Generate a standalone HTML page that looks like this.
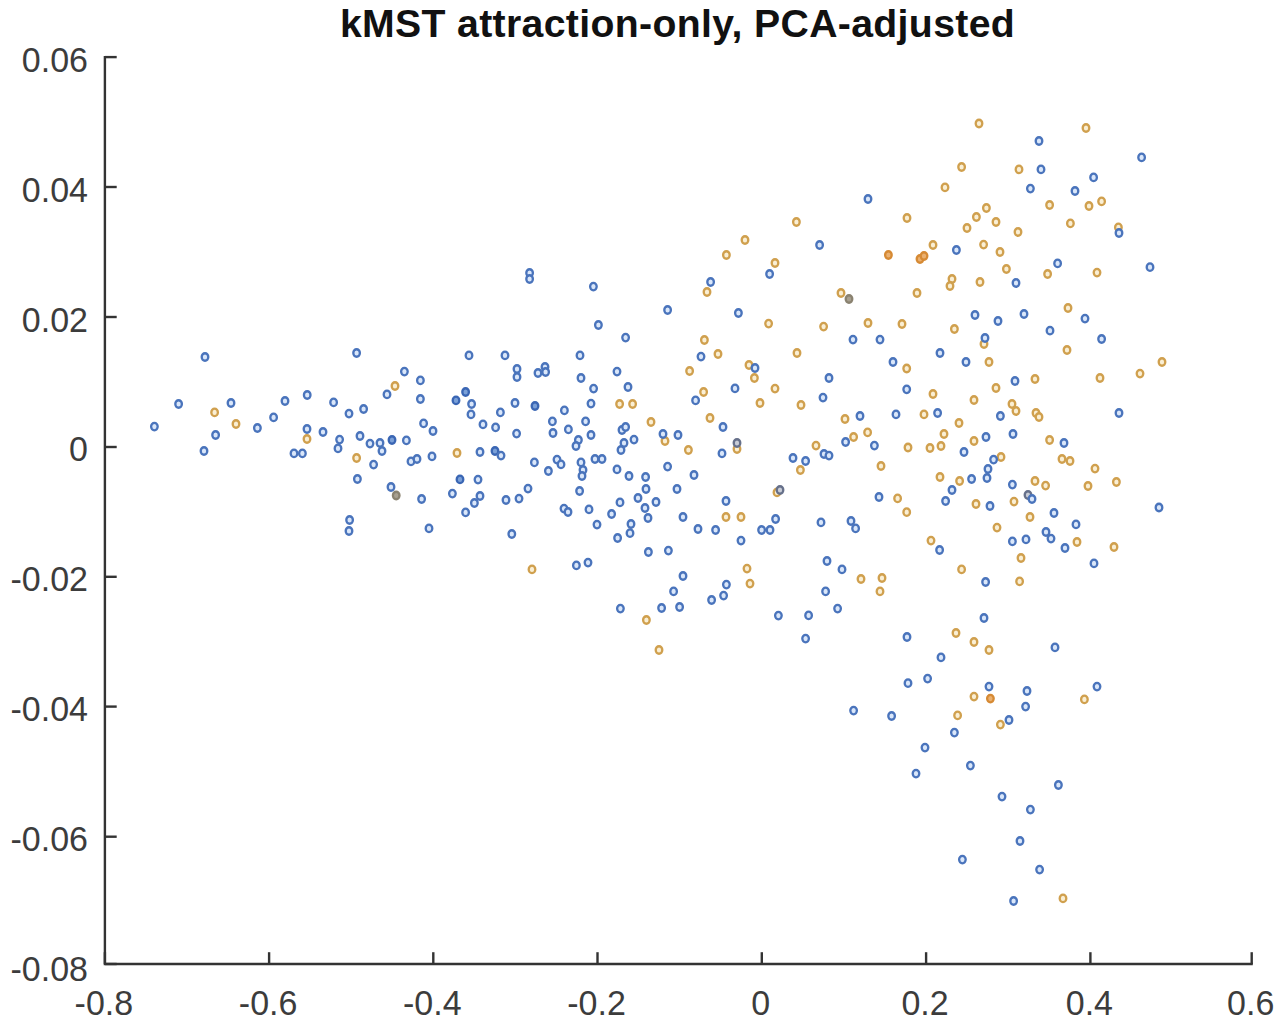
<!DOCTYPE html>
<html><head><meta charset="utf-8"><style>
html,body{margin:0;padding:0;background:#fff;width:1280px;height:1026px;overflow:hidden;font-family:"Liberation Sans",sans-serif;}
svg{display:block;}
</style></head><body>
<svg width="1280" height="1026" viewBox="0 0 1280 1026"><g stroke-width="2.3"><ellipse cx="214.6" cy="412.4" rx="3.3" ry="3.75" stroke="#d0a04e" fill="#faefd4"/><ellipse cx="395.0" cy="386.0" rx="3.3" ry="3.75" stroke="#d0a04e" fill="#faefd4"/><ellipse cx="236.0" cy="424.0" rx="3.3" ry="3.75" stroke="#d0a04e" fill="#faefd4"/><ellipse cx="307.0" cy="439.0" rx="3.3" ry="3.75" stroke="#d0a04e" fill="#faefd4"/><ellipse cx="356.6" cy="458.0" rx="3.3" ry="3.75" stroke="#d0a04e" fill="#faefd4"/><ellipse cx="619.6" cy="404.0" rx="3.3" ry="3.75" stroke="#d0a04e" fill="#faefd4"/><ellipse cx="632.6" cy="404.0" rx="3.3" ry="3.75" stroke="#d0a04e" fill="#faefd4"/><ellipse cx="651.0" cy="422.0" rx="3.3" ry="3.75" stroke="#d0a04e" fill="#faefd4"/><ellipse cx="457.0" cy="453.0" rx="3.3" ry="3.75" stroke="#d0a04e" fill="#faefd4"/><ellipse cx="704.4" cy="340.0" rx="3.3" ry="3.75" stroke="#d0a04e" fill="#faefd4"/><ellipse cx="718.0" cy="354.0" rx="3.3" ry="3.75" stroke="#d0a04e" fill="#faefd4"/><ellipse cx="797.0" cy="353.0" rx="3.3" ry="3.75" stroke="#d0a04e" fill="#faefd4"/><ellipse cx="689.6" cy="371.0" rx="3.3" ry="3.75" stroke="#d0a04e" fill="#faefd4"/><ellipse cx="749.0" cy="365.0" rx="3.3" ry="3.75" stroke="#d0a04e" fill="#faefd4"/><ellipse cx="754.4" cy="378.0" rx="3.3" ry="3.75" stroke="#d0a04e" fill="#faefd4"/><ellipse cx="906.7" cy="368.5" rx="3.3" ry="3.75" stroke="#d0a04e" fill="#faefd4"/><ellipse cx="775.0" cy="388.6" rx="3.3" ry="3.75" stroke="#d0a04e" fill="#faefd4"/><ellipse cx="703.6" cy="392.0" rx="3.3" ry="3.75" stroke="#d0a04e" fill="#faefd4"/><ellipse cx="760.0" cy="403.0" rx="3.3" ry="3.75" stroke="#d0a04e" fill="#faefd4"/><ellipse cx="801.0" cy="405.0" rx="3.3" ry="3.75" stroke="#d0a04e" fill="#faefd4"/><ellipse cx="710.0" cy="418.0" rx="3.3" ry="3.75" stroke="#d0a04e" fill="#faefd4"/><ellipse cx="665.0" cy="441.0" rx="3.3" ry="3.75" stroke="#d0a04e" fill="#faefd4"/><ellipse cx="688.4" cy="450.0" rx="3.3" ry="3.75" stroke="#d0a04e" fill="#faefd4"/><ellipse cx="737.0" cy="449.0" rx="3.3" ry="3.75" stroke="#d0a04e" fill="#faefd4"/><ellipse cx="845.0" cy="419.0" rx="3.3" ry="3.75" stroke="#d0a04e" fill="#faefd4"/><ellipse cx="853.6" cy="437.0" rx="3.3" ry="3.75" stroke="#d0a04e" fill="#faefd4"/><ellipse cx="867.6" cy="432.4" rx="3.3" ry="3.75" stroke="#d0a04e" fill="#faefd4"/><ellipse cx="908.0" cy="447.5" rx="3.3" ry="3.75" stroke="#d0a04e" fill="#faefd4"/><ellipse cx="816.0" cy="445.6" rx="3.3" ry="3.75" stroke="#d0a04e" fill="#faefd4"/><ellipse cx="800.4" cy="470.0" rx="3.3" ry="3.75" stroke="#d0a04e" fill="#faefd4"/><ellipse cx="881.0" cy="466.0" rx="3.3" ry="3.75" stroke="#d0a04e" fill="#faefd4"/><ellipse cx="777.0" cy="492.4" rx="3.3" ry="3.75" stroke="#d0a04e" fill="#faefd4"/><ellipse cx="897.6" cy="498.4" rx="3.3" ry="3.75" stroke="#d0a04e" fill="#faefd4"/><ellipse cx="906.7" cy="512.2" rx="3.3" ry="3.75" stroke="#d0a04e" fill="#faefd4"/><ellipse cx="726.0" cy="517.0" rx="3.3" ry="3.75" stroke="#d0a04e" fill="#faefd4"/><ellipse cx="741.0" cy="517.0" rx="3.3" ry="3.75" stroke="#d0a04e" fill="#faefd4"/><ellipse cx="954.4" cy="329.0" rx="3.3" ry="3.75" stroke="#d0a04e" fill="#faefd4"/><ellipse cx="984.0" cy="344.0" rx="3.3" ry="3.75" stroke="#d0a04e" fill="#faefd4"/><ellipse cx="989.0" cy="362.0" rx="3.3" ry="3.75" stroke="#d0a04e" fill="#faefd4"/><ellipse cx="1067.0" cy="350.0" rx="3.3" ry="3.75" stroke="#d0a04e" fill="#faefd4"/><ellipse cx="1162.0" cy="362.0" rx="3.3" ry="3.75" stroke="#d0a04e" fill="#faefd4"/><ellipse cx="1140.0" cy="373.6" rx="3.3" ry="3.75" stroke="#d0a04e" fill="#faefd4"/><ellipse cx="1100.0" cy="378.0" rx="3.3" ry="3.75" stroke="#d0a04e" fill="#faefd4"/><ellipse cx="1035.0" cy="379.0" rx="3.3" ry="3.75" stroke="#d0a04e" fill="#faefd4"/><ellipse cx="996.0" cy="388.0" rx="3.3" ry="3.75" stroke="#d0a04e" fill="#faefd4"/><ellipse cx="933.0" cy="394.0" rx="3.3" ry="3.75" stroke="#d0a04e" fill="#faefd4"/><ellipse cx="974.0" cy="400.0" rx="3.3" ry="3.75" stroke="#d0a04e" fill="#faefd4"/><ellipse cx="1012.0" cy="404.0" rx="3.3" ry="3.75" stroke="#d0a04e" fill="#faefd4"/><ellipse cx="1016.0" cy="411.0" rx="3.3" ry="3.75" stroke="#d0a04e" fill="#faefd4"/><ellipse cx="1036.0" cy="413.0" rx="3.3" ry="3.75" stroke="#d0a04e" fill="#faefd4"/><ellipse cx="1039.0" cy="417.0" rx="3.3" ry="3.75" stroke="#d0a04e" fill="#faefd4"/><ellipse cx="924.0" cy="414.4" rx="3.3" ry="3.75" stroke="#d0a04e" fill="#faefd4"/><ellipse cx="959.0" cy="423.0" rx="3.3" ry="3.75" stroke="#d0a04e" fill="#faefd4"/><ellipse cx="944.0" cy="434.0" rx="3.3" ry="3.75" stroke="#d0a04e" fill="#faefd4"/><ellipse cx="941.0" cy="446.0" rx="3.3" ry="3.75" stroke="#d0a04e" fill="#faefd4"/><ellipse cx="930.0" cy="448.0" rx="3.3" ry="3.75" stroke="#d0a04e" fill="#faefd4"/><ellipse cx="974.0" cy="441.0" rx="3.3" ry="3.75" stroke="#d0a04e" fill="#faefd4"/><ellipse cx="1049.6" cy="440.0" rx="3.3" ry="3.75" stroke="#d0a04e" fill="#faefd4"/><ellipse cx="1001.0" cy="457.0" rx="3.3" ry="3.75" stroke="#d0a04e" fill="#faefd4"/><ellipse cx="1062.0" cy="459.0" rx="3.3" ry="3.75" stroke="#d0a04e" fill="#faefd4"/><ellipse cx="1070.0" cy="461.0" rx="3.3" ry="3.75" stroke="#d0a04e" fill="#faefd4"/><ellipse cx="1095.0" cy="468.6" rx="3.3" ry="3.75" stroke="#d0a04e" fill="#faefd4"/><ellipse cx="959.6" cy="481.0" rx="3.3" ry="3.75" stroke="#d0a04e" fill="#faefd4"/><ellipse cx="940.0" cy="477.0" rx="3.3" ry="3.75" stroke="#d0a04e" fill="#faefd4"/><ellipse cx="1035.0" cy="481.0" rx="3.3" ry="3.75" stroke="#d0a04e" fill="#faefd4"/><ellipse cx="1045.6" cy="485.6" rx="3.3" ry="3.75" stroke="#d0a04e" fill="#faefd4"/><ellipse cx="1088.0" cy="486.0" rx="3.3" ry="3.75" stroke="#d0a04e" fill="#faefd4"/><ellipse cx="1116.4" cy="482.0" rx="3.3" ry="3.75" stroke="#d0a04e" fill="#faefd4"/><ellipse cx="1014.0" cy="501.6" rx="3.3" ry="3.75" stroke="#d0a04e" fill="#faefd4"/><ellipse cx="976.0" cy="504.0" rx="3.3" ry="3.75" stroke="#d0a04e" fill="#faefd4"/><ellipse cx="1030.0" cy="517.0" rx="3.3" ry="3.75" stroke="#d0a04e" fill="#faefd4"/><ellipse cx="997.0" cy="527.6" rx="3.3" ry="3.75" stroke="#d0a04e" fill="#faefd4"/><ellipse cx="796.4" cy="222.0" rx="3.3" ry="3.75" stroke="#d0a04e" fill="#faefd4"/><ellipse cx="907.0" cy="218.0" rx="3.3" ry="3.75" stroke="#d0a04e" fill="#faefd4"/><ellipse cx="745.0" cy="240.0" rx="3.3" ry="3.75" stroke="#d0a04e" fill="#faefd4"/><ellipse cx="888.4" cy="255.0" rx="3.3" ry="3.75" stroke="#d68a34" fill="#eab070"/><ellipse cx="726.4" cy="255.0" rx="3.3" ry="3.75" stroke="#d0a04e" fill="#faefd4"/><ellipse cx="775.0" cy="263.0" rx="3.3" ry="3.75" stroke="#d0a04e" fill="#faefd4"/><ellipse cx="707.0" cy="292.0" rx="3.3" ry="3.75" stroke="#d0a04e" fill="#faefd4"/><ellipse cx="841.0" cy="293.0" rx="3.3" ry="3.75" stroke="#d0a04e" fill="#faefd4"/><ellipse cx="768.6" cy="323.6" rx="3.3" ry="3.75" stroke="#d0a04e" fill="#faefd4"/><ellipse cx="823.6" cy="326.6" rx="3.3" ry="3.75" stroke="#d0a04e" fill="#faefd4"/><ellipse cx="868.0" cy="323.0" rx="3.3" ry="3.75" stroke="#d0a04e" fill="#faefd4"/><ellipse cx="902.0" cy="324.0" rx="3.3" ry="3.75" stroke="#d0a04e" fill="#faefd4"/><ellipse cx="979.0" cy="123.5" rx="3.3" ry="3.75" stroke="#d0a04e" fill="#faefd4"/><ellipse cx="1086.0" cy="128.0" rx="3.3" ry="3.75" stroke="#d0a04e" fill="#faefd4"/><ellipse cx="961.6" cy="167.0" rx="3.3" ry="3.75" stroke="#d0a04e" fill="#faefd4"/><ellipse cx="1019.0" cy="169.4" rx="3.3" ry="3.75" stroke="#d0a04e" fill="#faefd4"/><ellipse cx="945.0" cy="187.4" rx="3.3" ry="3.75" stroke="#d0a04e" fill="#faefd4"/><ellipse cx="1049.6" cy="205.0" rx="3.3" ry="3.75" stroke="#d0a04e" fill="#faefd4"/><ellipse cx="1089.0" cy="206.0" rx="3.3" ry="3.75" stroke="#d0a04e" fill="#faefd4"/><ellipse cx="1101.6" cy="201.4" rx="3.3" ry="3.75" stroke="#d0a04e" fill="#faefd4"/><ellipse cx="986.4" cy="208.0" rx="3.3" ry="3.75" stroke="#d0a04e" fill="#faefd4"/><ellipse cx="976.4" cy="217.0" rx="3.3" ry="3.75" stroke="#d0a04e" fill="#faefd4"/><ellipse cx="996.0" cy="222.0" rx="3.3" ry="3.75" stroke="#d0a04e" fill="#faefd4"/><ellipse cx="967.0" cy="228.0" rx="3.3" ry="3.75" stroke="#d0a04e" fill="#faefd4"/><ellipse cx="1070.4" cy="223.4" rx="3.3" ry="3.75" stroke="#d0a04e" fill="#faefd4"/><ellipse cx="1018.0" cy="232.0" rx="3.3" ry="3.75" stroke="#d0a04e" fill="#faefd4"/><ellipse cx="1118.4" cy="227.4" rx="3.3" ry="3.75" stroke="#d0a04e" fill="#faefd4"/><ellipse cx="933.0" cy="245.0" rx="3.3" ry="3.75" stroke="#d0a04e" fill="#faefd4"/><ellipse cx="983.6" cy="244.6" rx="3.3" ry="3.75" stroke="#d0a04e" fill="#faefd4"/><ellipse cx="1000.0" cy="252.0" rx="3.3" ry="3.75" stroke="#d0a04e" fill="#faefd4"/><ellipse cx="920.0" cy="259.0" rx="3.3" ry="3.75" stroke="#d68a34" fill="#eab070"/><ellipse cx="924.0" cy="256.0" rx="3.3" ry="3.75" stroke="#d68a34" fill="#eab070"/><ellipse cx="1006.4" cy="269.0" rx="3.3" ry="3.75" stroke="#d0a04e" fill="#faefd4"/><ellipse cx="1047.6" cy="274.0" rx="3.3" ry="3.75" stroke="#d0a04e" fill="#faefd4"/><ellipse cx="1097.0" cy="272.6" rx="3.3" ry="3.75" stroke="#d0a04e" fill="#faefd4"/><ellipse cx="952.0" cy="279.0" rx="3.3" ry="3.75" stroke="#d0a04e" fill="#faefd4"/><ellipse cx="950.0" cy="286.0" rx="3.3" ry="3.75" stroke="#d0a04e" fill="#faefd4"/><ellipse cx="980.0" cy="282.0" rx="3.3" ry="3.75" stroke="#d0a04e" fill="#faefd4"/><ellipse cx="917.0" cy="293.0" rx="3.3" ry="3.75" stroke="#d0a04e" fill="#faefd4"/><ellipse cx="1068.0" cy="308.0" rx="3.3" ry="3.75" stroke="#d0a04e" fill="#faefd4"/><ellipse cx="532.0" cy="569.4" rx="3.3" ry="3.75" stroke="#d0a04e" fill="#faefd4"/><ellipse cx="646.4" cy="620.0" rx="3.3" ry="3.75" stroke="#d0a04e" fill="#faefd4"/><ellipse cx="747.0" cy="568.6" rx="3.3" ry="3.75" stroke="#d0a04e" fill="#faefd4"/><ellipse cx="750.0" cy="583.6" rx="3.3" ry="3.75" stroke="#d0a04e" fill="#faefd4"/><ellipse cx="861.0" cy="579.0" rx="3.3" ry="3.75" stroke="#d0a04e" fill="#faefd4"/><ellipse cx="882.0" cy="578.0" rx="3.3" ry="3.75" stroke="#d0a04e" fill="#faefd4"/><ellipse cx="880.0" cy="591.4" rx="3.3" ry="3.75" stroke="#d0a04e" fill="#faefd4"/><ellipse cx="659.0" cy="650.0" rx="3.3" ry="3.75" stroke="#d0a04e" fill="#faefd4"/><ellipse cx="931.0" cy="540.6" rx="3.3" ry="3.75" stroke="#d0a04e" fill="#faefd4"/><ellipse cx="1077.0" cy="542.0" rx="3.3" ry="3.75" stroke="#d0a04e" fill="#faefd4"/><ellipse cx="1114.0" cy="547.0" rx="3.3" ry="3.75" stroke="#d0a04e" fill="#faefd4"/><ellipse cx="961.6" cy="569.4" rx="3.3" ry="3.75" stroke="#d0a04e" fill="#faefd4"/><ellipse cx="1021.0" cy="558.0" rx="3.3" ry="3.75" stroke="#d0a04e" fill="#faefd4"/><ellipse cx="1019.6" cy="581.4" rx="3.3" ry="3.75" stroke="#d0a04e" fill="#faefd4"/><ellipse cx="956.0" cy="633.0" rx="3.3" ry="3.75" stroke="#d0a04e" fill="#faefd4"/><ellipse cx="974.0" cy="642.0" rx="3.3" ry="3.75" stroke="#d0a04e" fill="#faefd4"/><ellipse cx="989.0" cy="650.0" rx="3.3" ry="3.75" stroke="#d0a04e" fill="#faefd4"/><ellipse cx="974.0" cy="696.6" rx="3.3" ry="3.75" stroke="#d0a04e" fill="#faefd4"/><ellipse cx="990.4" cy="698.6" rx="3.3" ry="3.75" stroke="#d68a34" fill="#eab070"/><ellipse cx="1084.4" cy="699.4" rx="3.3" ry="3.75" stroke="#d0a04e" fill="#faefd4"/><ellipse cx="957.6" cy="715.4" rx="3.3" ry="3.75" stroke="#d0a04e" fill="#faefd4"/><ellipse cx="1000.4" cy="724.6" rx="3.3" ry="3.75" stroke="#d0a04e" fill="#faefd4"/><ellipse cx="1063.0" cy="898.4" rx="3.3" ry="3.75" stroke="#d0a04e" fill="#faefd4"/><ellipse cx="396.2" cy="495.5" rx="3.3" ry="3.75" stroke="#8a8270" fill="#a8a090"/><ellipse cx="849.0" cy="299.0" rx="3.3" ry="3.75" stroke="#8a8270" fill="#a8a090"/><ellipse cx="737.0" cy="443.0" rx="3.3" ry="3.75" stroke="#66708a" fill="#c8ccd6"/><ellipse cx="780.0" cy="490.0" rx="3.3" ry="3.75" stroke="#66708a" fill="#c8ccd6"/><ellipse cx="1028.0" cy="495.0" rx="3.3" ry="3.75" stroke="#66708a" fill="#c8ccd6"/><ellipse cx="205.0" cy="357.0" rx="3.3" ry="3.75" stroke="#4a74bc" fill="#dae7fa"/><ellipse cx="356.6" cy="353.0" rx="3.3" ry="3.75" stroke="#4a74bc" fill="#dae7fa"/><ellipse cx="178.6" cy="404.0" rx="3.3" ry="3.75" stroke="#4a74bc" fill="#dae7fa"/><ellipse cx="231.0" cy="403.0" rx="3.3" ry="3.75" stroke="#4a74bc" fill="#dae7fa"/><ellipse cx="285.0" cy="401.0" rx="3.3" ry="3.75" stroke="#4a74bc" fill="#dae7fa"/><ellipse cx="307.2" cy="395.0" rx="3.3" ry="3.75" stroke="#4a74bc" fill="#dae7fa"/><ellipse cx="333.6" cy="402.4" rx="3.3" ry="3.75" stroke="#4a74bc" fill="#dae7fa"/><ellipse cx="349.0" cy="413.6" rx="3.3" ry="3.75" stroke="#4a74bc" fill="#dae7fa"/><ellipse cx="363.6" cy="409.0" rx="3.3" ry="3.75" stroke="#4a74bc" fill="#dae7fa"/><ellipse cx="387.0" cy="394.4" rx="3.3" ry="3.75" stroke="#4a74bc" fill="#dae7fa"/><ellipse cx="154.4" cy="426.6" rx="3.3" ry="3.75" stroke="#4a74bc" fill="#dae7fa"/><ellipse cx="257.4" cy="428.0" rx="3.3" ry="3.75" stroke="#4a74bc" fill="#dae7fa"/><ellipse cx="273.6" cy="417.4" rx="3.3" ry="3.75" stroke="#4a74bc" fill="#dae7fa"/><ellipse cx="215.6" cy="435.0" rx="3.3" ry="3.75" stroke="#4a74bc" fill="#dae7fa"/><ellipse cx="307.0" cy="429.0" rx="3.3" ry="3.75" stroke="#4a74bc" fill="#dae7fa"/><ellipse cx="323.0" cy="432.0" rx="3.3" ry="3.75" stroke="#4a74bc" fill="#dae7fa"/><ellipse cx="204.0" cy="451.0" rx="3.3" ry="3.75" stroke="#4a74bc" fill="#dae7fa"/><ellipse cx="294.0" cy="453.4" rx="3.3" ry="3.75" stroke="#4a74bc" fill="#dae7fa"/><ellipse cx="302.4" cy="453.4" rx="3.3" ry="3.75" stroke="#4a74bc" fill="#dae7fa"/><ellipse cx="339.6" cy="439.6" rx="3.3" ry="3.75" stroke="#4a74bc" fill="#dae7fa"/><ellipse cx="338.0" cy="448.4" rx="3.3" ry="3.75" stroke="#4a74bc" fill="#dae7fa"/><ellipse cx="360.0" cy="436.0" rx="3.3" ry="3.75" stroke="#4a74bc" fill="#dae7fa"/><ellipse cx="370.0" cy="443.6" rx="3.3" ry="3.75" stroke="#4a74bc" fill="#dae7fa"/><ellipse cx="380.0" cy="443.0" rx="3.3" ry="3.75" stroke="#4a74bc" fill="#dae7fa"/><ellipse cx="382.0" cy="451.0" rx="3.3" ry="3.75" stroke="#4a74bc" fill="#dae7fa"/><ellipse cx="392.0" cy="440.0" rx="3.3" ry="3.75" stroke="#3a66b4" fill="#7aa0d8"/><ellipse cx="373.6" cy="464.6" rx="3.3" ry="3.75" stroke="#4a74bc" fill="#dae7fa"/><ellipse cx="357.4" cy="479.0" rx="3.3" ry="3.75" stroke="#4a74bc" fill="#dae7fa"/><ellipse cx="391.0" cy="487.0" rx="3.3" ry="3.75" stroke="#4a74bc" fill="#dae7fa"/><ellipse cx="349.6" cy="520.0" rx="3.3" ry="3.75" stroke="#4a74bc" fill="#dae7fa"/><ellipse cx="349.0" cy="531.0" rx="3.3" ry="3.75" stroke="#4a74bc" fill="#dae7fa"/><ellipse cx="625.6" cy="337.6" rx="3.3" ry="3.75" stroke="#4a74bc" fill="#dae7fa"/><ellipse cx="469.0" cy="355.4" rx="3.3" ry="3.75" stroke="#4a74bc" fill="#dae7fa"/><ellipse cx="505.0" cy="355.4" rx="3.3" ry="3.75" stroke="#4a74bc" fill="#dae7fa"/><ellipse cx="580.0" cy="355.4" rx="3.3" ry="3.75" stroke="#4a74bc" fill="#dae7fa"/><ellipse cx="404.4" cy="371.6" rx="3.3" ry="3.75" stroke="#4a74bc" fill="#dae7fa"/><ellipse cx="420.4" cy="380.4" rx="3.3" ry="3.75" stroke="#4a74bc" fill="#dae7fa"/><ellipse cx="517.0" cy="369.0" rx="3.3" ry="3.75" stroke="#4a74bc" fill="#dae7fa"/><ellipse cx="517.0" cy="377.0" rx="3.3" ry="3.75" stroke="#4a74bc" fill="#dae7fa"/><ellipse cx="538.0" cy="373.0" rx="3.3" ry="3.75" stroke="#4a74bc" fill="#dae7fa"/><ellipse cx="545.0" cy="367.0" rx="3.3" ry="3.75" stroke="#4a74bc" fill="#dae7fa"/><ellipse cx="545.6" cy="372.0" rx="3.3" ry="3.75" stroke="#4a74bc" fill="#dae7fa"/><ellipse cx="617.0" cy="371.6" rx="3.3" ry="3.75" stroke="#4a74bc" fill="#dae7fa"/><ellipse cx="581.0" cy="378.0" rx="3.3" ry="3.75" stroke="#4a74bc" fill="#dae7fa"/><ellipse cx="593.6" cy="388.6" rx="3.3" ry="3.75" stroke="#4a74bc" fill="#dae7fa"/><ellipse cx="628.0" cy="387.0" rx="3.3" ry="3.75" stroke="#4a74bc" fill="#dae7fa"/><ellipse cx="420.4" cy="399.0" rx="3.3" ry="3.75" stroke="#4a74bc" fill="#dae7fa"/><ellipse cx="465.6" cy="392.0" rx="3.3" ry="3.75" stroke="#3a66b4" fill="#7aa0d8"/><ellipse cx="456.0" cy="400.4" rx="3.3" ry="3.75" stroke="#3a66b4" fill="#7aa0d8"/><ellipse cx="471.6" cy="404.0" rx="3.3" ry="3.75" stroke="#4a74bc" fill="#dae7fa"/><ellipse cx="471.0" cy="414.4" rx="3.3" ry="3.75" stroke="#4a74bc" fill="#dae7fa"/><ellipse cx="515.0" cy="403.0" rx="3.3" ry="3.75" stroke="#4a74bc" fill="#dae7fa"/><ellipse cx="535.0" cy="406.0" rx="3.3" ry="3.75" stroke="#3a66b4" fill="#7aa0d8"/><ellipse cx="500.4" cy="412.4" rx="3.3" ry="3.75" stroke="#4a74bc" fill="#dae7fa"/><ellipse cx="564.4" cy="410.4" rx="3.3" ry="3.75" stroke="#4a74bc" fill="#dae7fa"/><ellipse cx="591.0" cy="403.6" rx="3.3" ry="3.75" stroke="#4a74bc" fill="#dae7fa"/><ellipse cx="423.6" cy="423.4" rx="3.3" ry="3.75" stroke="#4a74bc" fill="#dae7fa"/><ellipse cx="433.0" cy="431.0" rx="3.3" ry="3.75" stroke="#4a74bc" fill="#dae7fa"/><ellipse cx="483.0" cy="424.4" rx="3.3" ry="3.75" stroke="#4a74bc" fill="#dae7fa"/><ellipse cx="495.6" cy="427.4" rx="3.3" ry="3.75" stroke="#4a74bc" fill="#dae7fa"/><ellipse cx="516.6" cy="433.6" rx="3.3" ry="3.75" stroke="#4a74bc" fill="#dae7fa"/><ellipse cx="552.4" cy="421.4" rx="3.3" ry="3.75" stroke="#4a74bc" fill="#dae7fa"/><ellipse cx="553.0" cy="433.0" rx="3.3" ry="3.75" stroke="#4a74bc" fill="#dae7fa"/><ellipse cx="568.4" cy="429.4" rx="3.3" ry="3.75" stroke="#4a74bc" fill="#dae7fa"/><ellipse cx="585.6" cy="421.4" rx="3.3" ry="3.75" stroke="#4a74bc" fill="#dae7fa"/><ellipse cx="591.0" cy="435.0" rx="3.3" ry="3.75" stroke="#4a74bc" fill="#dae7fa"/><ellipse cx="578.4" cy="440.0" rx="3.3" ry="3.75" stroke="#4a74bc" fill="#dae7fa"/><ellipse cx="576.0" cy="446.0" rx="3.3" ry="3.75" stroke="#4a74bc" fill="#dae7fa"/><ellipse cx="622.0" cy="430.0" rx="3.3" ry="3.75" stroke="#4a74bc" fill="#dae7fa"/><ellipse cx="625.6" cy="427.0" rx="3.3" ry="3.75" stroke="#4a74bc" fill="#dae7fa"/><ellipse cx="406.4" cy="440.4" rx="3.3" ry="3.75" stroke="#4a74bc" fill="#dae7fa"/><ellipse cx="624.0" cy="443.0" rx="3.3" ry="3.75" stroke="#4a74bc" fill="#dae7fa"/><ellipse cx="634.0" cy="439.6" rx="3.3" ry="3.75" stroke="#4a74bc" fill="#dae7fa"/><ellipse cx="621.0" cy="450.0" rx="3.3" ry="3.75" stroke="#4a74bc" fill="#dae7fa"/><ellipse cx="411.0" cy="461.4" rx="3.3" ry="3.75" stroke="#4a74bc" fill="#dae7fa"/><ellipse cx="417.0" cy="459.0" rx="3.3" ry="3.75" stroke="#4a74bc" fill="#dae7fa"/><ellipse cx="432.0" cy="456.4" rx="3.3" ry="3.75" stroke="#4a74bc" fill="#dae7fa"/><ellipse cx="480.0" cy="452.0" rx="3.3" ry="3.75" stroke="#4a74bc" fill="#dae7fa"/><ellipse cx="495.0" cy="451.0" rx="3.3" ry="3.75" stroke="#3a66b4" fill="#7aa0d8"/><ellipse cx="501.0" cy="455.6" rx="3.3" ry="3.75" stroke="#4a74bc" fill="#dae7fa"/><ellipse cx="534.4" cy="462.4" rx="3.3" ry="3.75" stroke="#4a74bc" fill="#dae7fa"/><ellipse cx="548.4" cy="471.0" rx="3.3" ry="3.75" stroke="#4a74bc" fill="#dae7fa"/><ellipse cx="557.0" cy="459.6" rx="3.3" ry="3.75" stroke="#4a74bc" fill="#dae7fa"/><ellipse cx="561.0" cy="464.4" rx="3.3" ry="3.75" stroke="#4a74bc" fill="#dae7fa"/><ellipse cx="581.0" cy="462.4" rx="3.3" ry="3.75" stroke="#4a74bc" fill="#dae7fa"/><ellipse cx="583.0" cy="470.0" rx="3.3" ry="3.75" stroke="#4a74bc" fill="#dae7fa"/><ellipse cx="582.0" cy="476.0" rx="3.3" ry="3.75" stroke="#4a74bc" fill="#dae7fa"/><ellipse cx="595.0" cy="459.0" rx="3.3" ry="3.75" stroke="#4a74bc" fill="#dae7fa"/><ellipse cx="602.0" cy="459.0" rx="3.3" ry="3.75" stroke="#4a74bc" fill="#dae7fa"/><ellipse cx="617.0" cy="469.4" rx="3.3" ry="3.75" stroke="#4a74bc" fill="#dae7fa"/><ellipse cx="629.0" cy="476.0" rx="3.3" ry="3.75" stroke="#4a74bc" fill="#dae7fa"/><ellipse cx="645.6" cy="477.0" rx="3.3" ry="3.75" stroke="#4a74bc" fill="#dae7fa"/><ellipse cx="646.0" cy="489.0" rx="3.3" ry="3.75" stroke="#4a74bc" fill="#dae7fa"/><ellipse cx="460.0" cy="479.4" rx="3.3" ry="3.75" stroke="#3a66b4" fill="#7aa0d8"/><ellipse cx="478.0" cy="479.6" rx="3.3" ry="3.75" stroke="#4a74bc" fill="#dae7fa"/><ellipse cx="421.6" cy="499.0" rx="3.3" ry="3.75" stroke="#4a74bc" fill="#dae7fa"/><ellipse cx="452.4" cy="493.6" rx="3.3" ry="3.75" stroke="#4a74bc" fill="#dae7fa"/><ellipse cx="480.0" cy="496.0" rx="3.3" ry="3.75" stroke="#4a74bc" fill="#dae7fa"/><ellipse cx="474.4" cy="503.0" rx="3.3" ry="3.75" stroke="#4a74bc" fill="#dae7fa"/><ellipse cx="465.6" cy="512.4" rx="3.3" ry="3.75" stroke="#4a74bc" fill="#dae7fa"/><ellipse cx="506.0" cy="500.0" rx="3.3" ry="3.75" stroke="#4a74bc" fill="#dae7fa"/><ellipse cx="519.0" cy="498.6" rx="3.3" ry="3.75" stroke="#4a74bc" fill="#dae7fa"/><ellipse cx="528.0" cy="488.6" rx="3.3" ry="3.75" stroke="#4a74bc" fill="#dae7fa"/><ellipse cx="579.6" cy="491.0" rx="3.3" ry="3.75" stroke="#4a74bc" fill="#dae7fa"/><ellipse cx="564.0" cy="508.6" rx="3.3" ry="3.75" stroke="#4a74bc" fill="#dae7fa"/><ellipse cx="568.0" cy="512.0" rx="3.3" ry="3.75" stroke="#4a74bc" fill="#dae7fa"/><ellipse cx="589.0" cy="509.4" rx="3.3" ry="3.75" stroke="#4a74bc" fill="#dae7fa"/><ellipse cx="611.6" cy="514.0" rx="3.3" ry="3.75" stroke="#4a74bc" fill="#dae7fa"/><ellipse cx="620.0" cy="502.4" rx="3.3" ry="3.75" stroke="#4a74bc" fill="#dae7fa"/><ellipse cx="638.0" cy="498.0" rx="3.3" ry="3.75" stroke="#4a74bc" fill="#dae7fa"/><ellipse cx="645.0" cy="508.0" rx="3.3" ry="3.75" stroke="#4a74bc" fill="#dae7fa"/><ellipse cx="648.0" cy="518.0" rx="3.3" ry="3.75" stroke="#4a74bc" fill="#dae7fa"/><ellipse cx="597.0" cy="524.6" rx="3.3" ry="3.75" stroke="#4a74bc" fill="#dae7fa"/><ellipse cx="631.0" cy="524.0" rx="3.3" ry="3.75" stroke="#4a74bc" fill="#dae7fa"/><ellipse cx="630.0" cy="533.2" rx="3.3" ry="3.75" stroke="#4a74bc" fill="#dae7fa"/><ellipse cx="429.0" cy="528.4" rx="3.3" ry="3.75" stroke="#4a74bc" fill="#dae7fa"/><ellipse cx="511.8" cy="534.0" rx="3.3" ry="3.75" stroke="#4a74bc" fill="#dae7fa"/><ellipse cx="853.0" cy="339.6" rx="3.3" ry="3.75" stroke="#4a74bc" fill="#dae7fa"/><ellipse cx="880.0" cy="339.6" rx="3.3" ry="3.75" stroke="#4a74bc" fill="#dae7fa"/><ellipse cx="701.0" cy="356.6" rx="3.3" ry="3.75" stroke="#4a74bc" fill="#dae7fa"/><ellipse cx="755.0" cy="368.0" rx="3.3" ry="3.75" stroke="#4a74bc" fill="#dae7fa"/><ellipse cx="893.0" cy="362.0" rx="3.3" ry="3.75" stroke="#4a74bc" fill="#dae7fa"/><ellipse cx="829.0" cy="378.0" rx="3.3" ry="3.75" stroke="#4a74bc" fill="#dae7fa"/><ellipse cx="906.7" cy="389.3" rx="3.3" ry="3.75" stroke="#4a74bc" fill="#dae7fa"/><ellipse cx="735.0" cy="388.4" rx="3.3" ry="3.75" stroke="#4a74bc" fill="#dae7fa"/><ellipse cx="695.6" cy="400.4" rx="3.3" ry="3.75" stroke="#4a74bc" fill="#dae7fa"/><ellipse cx="823.0" cy="397.6" rx="3.3" ry="3.75" stroke="#4a74bc" fill="#dae7fa"/><ellipse cx="663.0" cy="434.0" rx="3.3" ry="3.75" stroke="#4a74bc" fill="#dae7fa"/><ellipse cx="678.0" cy="435.0" rx="3.3" ry="3.75" stroke="#4a74bc" fill="#dae7fa"/><ellipse cx="723.0" cy="427.0" rx="3.3" ry="3.75" stroke="#4a74bc" fill="#dae7fa"/><ellipse cx="722.0" cy="453.4" rx="3.3" ry="3.75" stroke="#4a74bc" fill="#dae7fa"/><ellipse cx="860.0" cy="416.0" rx="3.3" ry="3.75" stroke="#4a74bc" fill="#dae7fa"/><ellipse cx="896.0" cy="414.4" rx="3.3" ry="3.75" stroke="#4a74bc" fill="#dae7fa"/><ellipse cx="845.6" cy="442.0" rx="3.3" ry="3.75" stroke="#4a74bc" fill="#dae7fa"/><ellipse cx="874.4" cy="445.6" rx="3.3" ry="3.75" stroke="#4a74bc" fill="#dae7fa"/><ellipse cx="824.0" cy="454.0" rx="3.3" ry="3.75" stroke="#4a74bc" fill="#dae7fa"/><ellipse cx="829.0" cy="455.6" rx="3.3" ry="3.75" stroke="#4a74bc" fill="#dae7fa"/><ellipse cx="793.0" cy="458.0" rx="3.3" ry="3.75" stroke="#4a74bc" fill="#dae7fa"/><ellipse cx="805.6" cy="461.0" rx="3.3" ry="3.75" stroke="#4a74bc" fill="#dae7fa"/><ellipse cx="667.6" cy="466.6" rx="3.3" ry="3.75" stroke="#4a74bc" fill="#dae7fa"/><ellipse cx="694.0" cy="475.0" rx="3.3" ry="3.75" stroke="#4a74bc" fill="#dae7fa"/><ellipse cx="677.0" cy="489.0" rx="3.3" ry="3.75" stroke="#4a74bc" fill="#dae7fa"/><ellipse cx="879.0" cy="497.0" rx="3.3" ry="3.75" stroke="#4a74bc" fill="#dae7fa"/><ellipse cx="656.0" cy="502.0" rx="3.3" ry="3.75" stroke="#4a74bc" fill="#dae7fa"/><ellipse cx="726.0" cy="501.0" rx="3.3" ry="3.75" stroke="#4a74bc" fill="#dae7fa"/><ellipse cx="683.0" cy="517.0" rx="3.3" ry="3.75" stroke="#4a74bc" fill="#dae7fa"/><ellipse cx="775.6" cy="519.0" rx="3.3" ry="3.75" stroke="#4a74bc" fill="#dae7fa"/><ellipse cx="821.0" cy="522.4" rx="3.3" ry="3.75" stroke="#4a74bc" fill="#dae7fa"/><ellipse cx="851.0" cy="521.0" rx="3.3" ry="3.75" stroke="#4a74bc" fill="#dae7fa"/><ellipse cx="855.6" cy="528.4" rx="3.3" ry="3.75" stroke="#4a74bc" fill="#dae7fa"/><ellipse cx="698.0" cy="529.0" rx="3.3" ry="3.75" stroke="#4a74bc" fill="#dae7fa"/><ellipse cx="715.6" cy="530.0" rx="3.3" ry="3.75" stroke="#4a74bc" fill="#dae7fa"/><ellipse cx="761.6" cy="530.0" rx="3.3" ry="3.75" stroke="#4a74bc" fill="#dae7fa"/><ellipse cx="770.0" cy="530.0" rx="3.3" ry="3.75" stroke="#4a74bc" fill="#dae7fa"/><ellipse cx="1050.0" cy="330.7" rx="3.3" ry="3.75" stroke="#4a74bc" fill="#dae7fa"/><ellipse cx="985.0" cy="338.0" rx="3.3" ry="3.75" stroke="#4a74bc" fill="#dae7fa"/><ellipse cx="1101.6" cy="339.0" rx="3.3" ry="3.75" stroke="#4a74bc" fill="#dae7fa"/><ellipse cx="940.0" cy="353.0" rx="3.3" ry="3.75" stroke="#4a74bc" fill="#dae7fa"/><ellipse cx="966.0" cy="362.0" rx="3.3" ry="3.75" stroke="#4a74bc" fill="#dae7fa"/><ellipse cx="1015.0" cy="381.0" rx="3.3" ry="3.75" stroke="#4a74bc" fill="#dae7fa"/><ellipse cx="937.6" cy="413.0" rx="3.3" ry="3.75" stroke="#4a74bc" fill="#dae7fa"/><ellipse cx="1000.4" cy="416.0" rx="3.3" ry="3.75" stroke="#4a74bc" fill="#dae7fa"/><ellipse cx="1119.0" cy="413.0" rx="3.3" ry="3.75" stroke="#4a74bc" fill="#dae7fa"/><ellipse cx="1013.0" cy="434.0" rx="3.3" ry="3.75" stroke="#4a74bc" fill="#dae7fa"/><ellipse cx="986.0" cy="437.0" rx="3.3" ry="3.75" stroke="#4a74bc" fill="#dae7fa"/><ellipse cx="1064.0" cy="443.0" rx="3.3" ry="3.75" stroke="#4a74bc" fill="#dae7fa"/><ellipse cx="964.0" cy="452.0" rx="3.3" ry="3.75" stroke="#4a74bc" fill="#dae7fa"/><ellipse cx="993.6" cy="459.6" rx="3.3" ry="3.75" stroke="#4a74bc" fill="#dae7fa"/><ellipse cx="988.0" cy="469.0" rx="3.3" ry="3.75" stroke="#4a74bc" fill="#dae7fa"/><ellipse cx="987.0" cy="478.0" rx="3.3" ry="3.75" stroke="#4a74bc" fill="#dae7fa"/><ellipse cx="971.6" cy="479.0" rx="3.3" ry="3.75" stroke="#4a74bc" fill="#dae7fa"/><ellipse cx="952.0" cy="490.0" rx="3.3" ry="3.75" stroke="#4a74bc" fill="#dae7fa"/><ellipse cx="945.6" cy="501.0" rx="3.3" ry="3.75" stroke="#4a74bc" fill="#dae7fa"/><ellipse cx="1012.4" cy="484.6" rx="3.3" ry="3.75" stroke="#4a74bc" fill="#dae7fa"/><ellipse cx="1032.0" cy="499.0" rx="3.3" ry="3.75" stroke="#4a74bc" fill="#dae7fa"/><ellipse cx="990.0" cy="506.0" rx="3.3" ry="3.75" stroke="#4a74bc" fill="#dae7fa"/><ellipse cx="1159.0" cy="507.5" rx="3.3" ry="3.75" stroke="#4a74bc" fill="#dae7fa"/><ellipse cx="1054.0" cy="513.0" rx="3.3" ry="3.75" stroke="#4a74bc" fill="#dae7fa"/><ellipse cx="1076.0" cy="524.4" rx="3.3" ry="3.75" stroke="#4a74bc" fill="#dae7fa"/><ellipse cx="1046.0" cy="532.0" rx="3.3" ry="3.75" stroke="#4a74bc" fill="#dae7fa"/><ellipse cx="529.6" cy="273.0" rx="3.3" ry="3.75" stroke="#4a74bc" fill="#dae7fa"/><ellipse cx="529.6" cy="279.0" rx="3.3" ry="3.75" stroke="#4a74bc" fill="#dae7fa"/><ellipse cx="593.4" cy="286.6" rx="3.3" ry="3.75" stroke="#4a74bc" fill="#dae7fa"/><ellipse cx="598.4" cy="325.0" rx="3.3" ry="3.75" stroke="#4a74bc" fill="#dae7fa"/><ellipse cx="868.0" cy="199.0" rx="3.3" ry="3.75" stroke="#4a74bc" fill="#dae7fa"/><ellipse cx="819.6" cy="245.0" rx="3.3" ry="3.75" stroke="#4a74bc" fill="#dae7fa"/><ellipse cx="769.6" cy="274.0" rx="3.3" ry="3.75" stroke="#4a74bc" fill="#dae7fa"/><ellipse cx="710.6" cy="282.0" rx="3.3" ry="3.75" stroke="#4a74bc" fill="#dae7fa"/><ellipse cx="667.6" cy="310.0" rx="3.3" ry="3.75" stroke="#4a74bc" fill="#dae7fa"/><ellipse cx="738.4" cy="313.0" rx="3.3" ry="3.75" stroke="#4a74bc" fill="#dae7fa"/><ellipse cx="1039.0" cy="141.0" rx="3.3" ry="3.75" stroke="#4a74bc" fill="#dae7fa"/><ellipse cx="1141.6" cy="157.4" rx="3.3" ry="3.75" stroke="#4a74bc" fill="#dae7fa"/><ellipse cx="1041.0" cy="169.4" rx="3.3" ry="3.75" stroke="#4a74bc" fill="#dae7fa"/><ellipse cx="1093.6" cy="177.4" rx="3.3" ry="3.75" stroke="#4a74bc" fill="#dae7fa"/><ellipse cx="1030.4" cy="188.6" rx="3.3" ry="3.75" stroke="#4a74bc" fill="#dae7fa"/><ellipse cx="1075.0" cy="191.0" rx="3.3" ry="3.75" stroke="#4a74bc" fill="#dae7fa"/><ellipse cx="1119.0" cy="233.0" rx="3.3" ry="3.75" stroke="#4a74bc" fill="#dae7fa"/><ellipse cx="956.4" cy="250.0" rx="3.3" ry="3.75" stroke="#4a74bc" fill="#dae7fa"/><ellipse cx="1057.6" cy="263.4" rx="3.3" ry="3.75" stroke="#4a74bc" fill="#dae7fa"/><ellipse cx="1150.0" cy="267.2" rx="3.3" ry="3.75" stroke="#4a74bc" fill="#dae7fa"/><ellipse cx="1016.0" cy="283.0" rx="3.3" ry="3.75" stroke="#4a74bc" fill="#dae7fa"/><ellipse cx="975.0" cy="315.0" rx="3.3" ry="3.75" stroke="#4a74bc" fill="#dae7fa"/><ellipse cx="998.0" cy="321.0" rx="3.3" ry="3.75" stroke="#4a74bc" fill="#dae7fa"/><ellipse cx="1024.0" cy="314.0" rx="3.3" ry="3.75" stroke="#4a74bc" fill="#dae7fa"/><ellipse cx="1085.0" cy="318.6" rx="3.3" ry="3.75" stroke="#4a74bc" fill="#dae7fa"/><ellipse cx="617.6" cy="538.0" rx="3.3" ry="3.75" stroke="#4a74bc" fill="#dae7fa"/><ellipse cx="648.4" cy="552.0" rx="3.3" ry="3.75" stroke="#4a74bc" fill="#dae7fa"/><ellipse cx="576.4" cy="565.4" rx="3.3" ry="3.75" stroke="#4a74bc" fill="#dae7fa"/><ellipse cx="588.0" cy="562.6" rx="3.3" ry="3.75" stroke="#4a74bc" fill="#dae7fa"/><ellipse cx="620.4" cy="608.6" rx="3.3" ry="3.75" stroke="#4a74bc" fill="#dae7fa"/><ellipse cx="741.0" cy="540.6" rx="3.3" ry="3.75" stroke="#4a74bc" fill="#dae7fa"/><ellipse cx="668.4" cy="550.6" rx="3.3" ry="3.75" stroke="#4a74bc" fill="#dae7fa"/><ellipse cx="683.0" cy="576.0" rx="3.3" ry="3.75" stroke="#4a74bc" fill="#dae7fa"/><ellipse cx="673.6" cy="591.4" rx="3.3" ry="3.75" stroke="#4a74bc" fill="#dae7fa"/><ellipse cx="661.6" cy="608.0" rx="3.3" ry="3.75" stroke="#4a74bc" fill="#dae7fa"/><ellipse cx="679.6" cy="607.0" rx="3.3" ry="3.75" stroke="#4a74bc" fill="#dae7fa"/><ellipse cx="726.4" cy="584.6" rx="3.3" ry="3.75" stroke="#4a74bc" fill="#dae7fa"/><ellipse cx="723.6" cy="595.6" rx="3.3" ry="3.75" stroke="#4a74bc" fill="#dae7fa"/><ellipse cx="711.6" cy="600.0" rx="3.3" ry="3.75" stroke="#4a74bc" fill="#dae7fa"/><ellipse cx="778.4" cy="615.6" rx="3.3" ry="3.75" stroke="#4a74bc" fill="#dae7fa"/><ellipse cx="808.6" cy="615.4" rx="3.3" ry="3.75" stroke="#4a74bc" fill="#dae7fa"/><ellipse cx="805.6" cy="638.6" rx="3.3" ry="3.75" stroke="#4a74bc" fill="#dae7fa"/><ellipse cx="827.0" cy="561.0" rx="3.3" ry="3.75" stroke="#4a74bc" fill="#dae7fa"/><ellipse cx="842.0" cy="569.4" rx="3.3" ry="3.75" stroke="#4a74bc" fill="#dae7fa"/><ellipse cx="825.6" cy="591.4" rx="3.3" ry="3.75" stroke="#4a74bc" fill="#dae7fa"/><ellipse cx="837.6" cy="608.6" rx="3.3" ry="3.75" stroke="#4a74bc" fill="#dae7fa"/><ellipse cx="907.0" cy="637.0" rx="3.3" ry="3.75" stroke="#4a74bc" fill="#dae7fa"/><ellipse cx="908.0" cy="683.2" rx="3.3" ry="3.75" stroke="#4a74bc" fill="#dae7fa"/><ellipse cx="853.6" cy="710.6" rx="3.3" ry="3.75" stroke="#4a74bc" fill="#dae7fa"/><ellipse cx="891.6" cy="716.0" rx="3.3" ry="3.75" stroke="#4a74bc" fill="#dae7fa"/><ellipse cx="939.6" cy="550.0" rx="3.3" ry="3.75" stroke="#4a74bc" fill="#dae7fa"/><ellipse cx="1012.4" cy="541.4" rx="3.3" ry="3.75" stroke="#4a74bc" fill="#dae7fa"/><ellipse cx="1026.0" cy="539.4" rx="3.3" ry="3.75" stroke="#4a74bc" fill="#dae7fa"/><ellipse cx="1051.0" cy="538.6" rx="3.3" ry="3.75" stroke="#4a74bc" fill="#dae7fa"/><ellipse cx="1065.0" cy="548.0" rx="3.3" ry="3.75" stroke="#4a74bc" fill="#dae7fa"/><ellipse cx="1094.0" cy="563.4" rx="3.3" ry="3.75" stroke="#4a74bc" fill="#dae7fa"/><ellipse cx="985.6" cy="582.0" rx="3.3" ry="3.75" stroke="#4a74bc" fill="#dae7fa"/><ellipse cx="984.0" cy="618.0" rx="3.3" ry="3.75" stroke="#4a74bc" fill="#dae7fa"/><ellipse cx="941.0" cy="657.4" rx="3.3" ry="3.75" stroke="#4a74bc" fill="#dae7fa"/><ellipse cx="1055.0" cy="647.4" rx="3.3" ry="3.75" stroke="#4a74bc" fill="#dae7fa"/><ellipse cx="927.6" cy="678.6" rx="3.3" ry="3.75" stroke="#4a74bc" fill="#dae7fa"/><ellipse cx="989.0" cy="686.6" rx="3.3" ry="3.75" stroke="#4a74bc" fill="#dae7fa"/><ellipse cx="1027.0" cy="691.0" rx="3.3" ry="3.75" stroke="#4a74bc" fill="#dae7fa"/><ellipse cx="1025.6" cy="706.6" rx="3.3" ry="3.75" stroke="#4a74bc" fill="#dae7fa"/><ellipse cx="1097.0" cy="686.6" rx="3.3" ry="3.75" stroke="#4a74bc" fill="#dae7fa"/><ellipse cx="1009.0" cy="720.0" rx="3.3" ry="3.75" stroke="#4a74bc" fill="#dae7fa"/><ellipse cx="954.4" cy="732.6" rx="3.3" ry="3.75" stroke="#4a74bc" fill="#dae7fa"/><ellipse cx="925.0" cy="747.6" rx="3.3" ry="3.75" stroke="#4a74bc" fill="#dae7fa"/><ellipse cx="970.4" cy="765.6" rx="3.3" ry="3.75" stroke="#4a74bc" fill="#dae7fa"/><ellipse cx="916.0" cy="773.6" rx="3.3" ry="3.75" stroke="#4a74bc" fill="#dae7fa"/><ellipse cx="1058.4" cy="785.0" rx="3.3" ry="3.75" stroke="#4a74bc" fill="#dae7fa"/><ellipse cx="1002.0" cy="796.6" rx="3.3" ry="3.75" stroke="#4a74bc" fill="#dae7fa"/><ellipse cx="1030.4" cy="809.6" rx="3.3" ry="3.75" stroke="#4a74bc" fill="#dae7fa"/><ellipse cx="1020.0" cy="841.0" rx="3.3" ry="3.75" stroke="#4a74bc" fill="#dae7fa"/><ellipse cx="962.4" cy="859.6" rx="3.3" ry="3.75" stroke="#4a74bc" fill="#dae7fa"/><ellipse cx="1039.6" cy="869.6" rx="3.3" ry="3.75" stroke="#4a74bc" fill="#dae7fa"/><ellipse cx="1013.6" cy="901.0" rx="3.3" ry="3.75" stroke="#4a74bc" fill="#dae7fa"/></g><g><g stroke="#333333" stroke-width="2.4" fill="none" stroke-linecap="butt" stroke-linejoin="miter"><path d="M104.9 56.0V964.0H1252.8"/><path d="M104.9 57.1h11.8"/><path d="M104.9 187.0h11.8"/><path d="M104.9 317.0h11.8"/><path d="M104.9 447.0h11.8"/><path d="M104.9 576.8h11.8"/><path d="M104.9 706.6h11.8"/><path d="M104.9 836.7h11.8"/><path d="M104.9 964.0h11.8"/><path d="M104.9 964.0v-11.8"/><path d="M269.1 964.0v-11.8"/><path d="M433.3 964.0v-11.8"/><path d="M597.5 964.0v-11.8"/><path d="M761.8 964.0v-11.8"/><path d="M926.1 964.0v-11.8"/><path d="M1090.4 964.0v-11.8"/><path d="M1251.7 964.0v-11.8"/></g><g font-family="Liberation Sans, sans-serif" font-size="34" fill="#3c3c3c"><text transform="translate(88 71.6) scale(1 1.05)" text-anchor="end">0.06</text><text transform="translate(88 201.5) scale(1 1.05)" text-anchor="end">0.04</text><text transform="translate(88 331.5) scale(1 1.05)" text-anchor="end">0.02</text><text transform="translate(88 461.4) scale(1 1.05)" text-anchor="end">0</text><text transform="translate(88 591.4) scale(1 1.05)" text-anchor="end">-0.02</text><text transform="translate(88 721.3) scale(1 1.05)" text-anchor="end">-0.04</text><text transform="translate(88 851.2) scale(1 1.05)" text-anchor="end">-0.06</text><text transform="translate(88 981.2) scale(1 1.05)" text-anchor="end">-0.08</text><text transform="translate(103.9 1015) scale(1 1.05)" text-anchor="middle">-0.8</text><text transform="translate(268.1 1015) scale(1 1.05)" text-anchor="middle">-0.6</text><text transform="translate(432.3 1015) scale(1 1.05)" text-anchor="middle">-0.4</text><text transform="translate(596.5 1015) scale(1 1.05)" text-anchor="middle">-0.2</text><text transform="translate(760.8 1015) scale(1 1.05)" text-anchor="middle">0</text><text transform="translate(925.1 1015) scale(1 1.05)" text-anchor="middle">0.2</text><text transform="translate(1089.4 1015) scale(1 1.05)" text-anchor="middle">0.4</text><text transform="translate(1250.7 1015) scale(1 1.05)" text-anchor="middle">0.6</text></g><text x="677.5" y="36.9" text-anchor="middle" font-family="Liberation Sans, sans-serif" font-weight="bold" font-size="39.2" letter-spacing="0.35" fill="#111">kMST attraction-only, PCA-adjusted</text></g></svg>
</body></html>
